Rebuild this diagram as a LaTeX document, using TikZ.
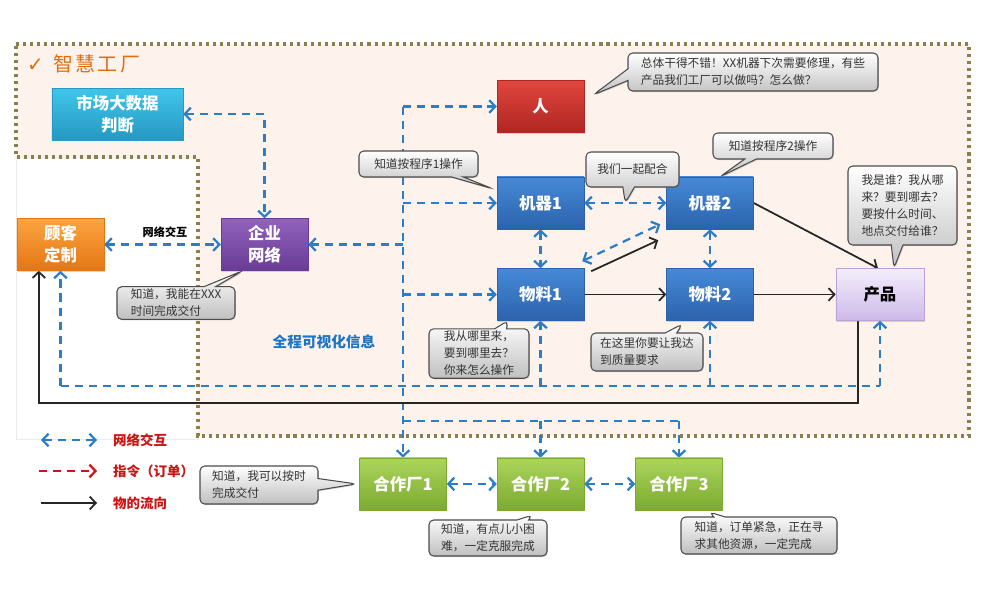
\documentclass[tikz,border=0pt]{standalone}
\usepackage{fontspec}
\setmainfont{Noto Sans CJK SC}
\newfontfamily\symbolfont{DejaVu Sans}
\usetikzlibrary{arrows.meta, positioning, calc, shapes.callouts, shadows, backgrounds}
\definecolor{netblue}{RGB}{44,125,200}
\definecolor{orderred}{RGB}{204,20,20}
\definecolor{zoneline}{RGB}{138,128,78}
\definecolor{zonefill}{RGB}{253,243,236}
\definecolor{titleorange}{RGB}{228,108,10}
\definecolor{infoblue}{RGB}{28,118,200}
\definecolor{bluetop}{RGB}{70,138,215}
\definecolor{bluebot}{RGB}{44,98,172}
\definecolor{redtop}{RGB}{224,70,62}
\definecolor{redbot}{RGB}{176,38,34}
\definecolor{greentop}{RGB}{172,213,92}
\definecolor{greenbot}{RGB}{124,170,48}
\definecolor{orangetop}{RGB}{251,164,64}
\definecolor{orangebot}{RGB}{228,118,20}
\definecolor{purpletop}{RGB}{146,98,188}
\definecolor{purplebot}{RGB}{104,60,148}
\definecolor{cyantop}{RGB}{64,198,235}
\definecolor{cyanbot}{RGB}{38,152,194}
\definecolor{prodtop}{RGB}{243,237,251}
\definecolor{prodbot}{RGB}{206,186,234}
\tikzset{
  unitbox/.style  = {rectangle, minimum width=2.61cm, minimum height=1.56cm,
                     inner sep=1pt, align=center, text=white,
                     font=\fontsize{14}{19}\selectfont\bfseries,
                     drop shadow={shadow xshift=0.8pt, shadow yshift=-1pt, opacity=0.3}},
  machine/.style  = {unitbox, top color=bluetop, bottom color=bluebot, draw=bluebot},
  person/.style   = {unitbox, top color=redtop, bottom color=redbot, draw=redbot},
  partner/.style  = {unitbox, top color=greentop, bottom color=greenbot, draw=greenbot},
  customer/.style = {unitbox, top color=orangetop, bottom color=orangebot, draw=orangebot},
  network/.style  = {unitbox, top color=purpletop, bottom color=purplebot, draw=purplebot},
  market/.style   = {unitbox, minimum width=3.93cm, top color=cyantop, bottom color=cyanbot, draw=cyanbot},
  product/.style  = {unitbox, minimum width=2.64cm, text=black, top color=prodtop,
                     bottom color=prodbot, draw=purpletop!60},
  say/.style      = {rectangle callout, rounded corners=4pt, draw=black!70, line width=0.9pt,
                     top color=white, bottom color=black!25, align=left, text=black!80,
                     font=\fontsize{10}{14.5}\selectfont, inner sep=2pt,
                     callout pointer width=3.5mm,
                     drop shadow={shadow xshift=0.8pt, shadow yshift=-1pt, opacity=0.3}},
  net/.style      = {draw=netblue, line width=1.9pt, dash pattern=on 7pt off 5pt},
  netarrow/.style = {net, -{Straight Barb[length=1.8mm, width=3.8mm]}},
  netboth/.style  = {net, {Straight Barb[length=1.8mm, width=3.8mm]}-{Straight Barb[length=1.8mm, width=3.8mm]}},
  order/.style    = {draw=orderred, line width=1.9pt, dash pattern=on 7pt off 5pt,
                     -{Straight Barb[length=1.8mm, width=3.8mm]}},
  flow/.style     = {draw=black!85, line width=1.5pt, -{Straight Barb[length=1.8mm, width=3.8mm]}},
  legend/.style   = {text=orderred, font=\fontsize{11.5}{14}\selectfont\bfseries, inner sep=0pt},
}

\begin{document}
\begin{tikzpicture}[x=0.03cm, y=-0.03cm]
  \useasboundingbox (0,0) rectangle (990,605);

  \node[market] (mkt) at (117.5,114) {市场大数据\\判断};
  \node[customer] (cust) at (60.5,244.5) {顾客\\定制};
  \node[network] (ent) at (264.5,244.5) {企业\\网络};
  \node[person] (ren) at (540.5,106.5) {人};
  \node[machine, below=1.32cm of ren] (m1) {机器1};
  \node[machine, below=1.17cm of m1] (w1) {物料1};
  \node[machine, right=2.46cm of m1] (m2) {机器2};
  \node[machine, below=1.17cm of m2] (w2) {物料2};
  \node[product, right=2.46cm of w2] (prod) {产品};
  \node[partner, below=4.11cm of w1] (f2) {合作厂2};
  \node[partner, left=1.5cm of f2] (f1) {合作厂1};
  \node[partner, right=1.53cm of f2] (f3) {合作厂3};

  \node[anchor=west, text=titleorange, font=\fontsize{17}{20}\selectfont, inner sep=0pt] (title)
    at (27,64) {{\symbolfont\bfseries ✓}\hspace{8pt}智\hspace{2pt}慧\hspace{2pt}工\hspace{2pt}厂};
  \node[font=\fontsize{9.5}{12}\selectfont\bfseries, inner sep=0pt] (netlbl) at (165,232) {网络交互};
  \node[text=infoblue, font=\fontsize{12.5}{15}\selectfont\bfseries, inner sep=0pt] (info)
    at (324,342) {全程可视化信息};

  \node[say, minimum width=7.5cm, minimum height=1.14cm,
        callout absolute pointer={([xshift=0.27cm, yshift=0.35cm]ren.east)}] (s1) at (753,72)
    {总体干得不错！XX机器下次需要修理，有些\\产品我们工厂可以做吗？怎么做？};
  \node[say, minimum width=3.57cm, minimum height=0.78cm,
        callout absolute pointer={([xshift=-0.12cm, yshift=-0.36cm]m1.north west)}] (s2) at (418.5,164)
    {知道按程序1操作};
  \node[say, minimum width=2.79cm, minimum height=1.05cm,
        callout absolute pointer={($(m1.east)!0.5!(m2.west)$)}] (s3) at (632.5,169.5)
    {我们一起配合};
  \node[say, minimum width=3.6cm, minimum height=0.78cm,
        callout absolute pointer={([xshift=0.3cm]m2.north)}] (s4) at (773,146)
    {知道按程序2操作};
  \node[say, minimum width=3.27cm, minimum height=2.37cm,
        callout absolute pointer={([xshift=0.42cm]prod.north)}] (s5) at (902.5,205.5)
    {我是谁？我从哪\\来？要到哪去？\\要按什么时间、\\地点交付给谁？};
  \node[say, minimum width=3.54cm, minimum height=0.96cm,
        callout absolute pointer={([xshift=0.66cm]ent.south west)}] (s6) at (176,303)
    {知道，我能在XXX\\时间完成交付};
  \node[say, minimum width=3.0cm, minimum height=1.35cm,
        callout absolute pointer={([xshift=0.33cm]w1.south west)}] (s7) at (479,353.5)
    {我从哪里来，\\要到哪里去？\\你来怎么操作};
  \node[say, minimum width=3.36cm, minimum height=1.14cm,
        callout absolute pointer={([xshift=0.48cm, yshift=-0.1cm]w2.south west)}] (s8) at (647,352)
    {在这里你要让我达\\到质量要求};
  \node[say, minimum width=3.54cm, minimum height=1.14cm,
        callout absolute pointer={([xshift=-0.09cm]f1.west)}] (s9) at (259,485)
    {知道，我可以按时\\完成交付};
  \node[say, minimum width=3.54cm, minimum height=1.08cm,
        callout absolute pointer={([xshift=-0.25cm, yshift=-0.15cm]f2.south)}] (s10) at (488,538)
    {知道，有点儿小困\\难，一定克服完成};
  \node[say, minimum width=4.68cm, minimum height=1.11cm,
        callout absolute pointer={([xshift=-0.4cm, yshift=-0.06cm]f3.south east)}] (s11) at (759,535.5)
    {知道，订单紧急，正在寻\\求其他资源，一定完成};

  \node[legend, anchor=west] (lgnet) at (113,440) {网络交互};
  \node[legend, anchor=west] (lgorder) at (113,471) {指令（订单）};
  \node[legend, anchor=west] (lgflow) at (113,503) {物的流向};
  \draw[netboth] ([xshift=-2.16cm]lgnet.west) -- ([xshift=-0.48cm]lgnet.west);
  \draw[order] ([xshift=-2.22cm]lgorder.west) -- ([xshift=-0.48cm]lgorder.west);
  \draw[flow] ([xshift=-2.16cm]lgflow.west) -- ([xshift=-0.48cm]lgflow.west);

  \begin{scope}[on background layer]
    \fill[white] (0,0) rectangle (990,605);
    \draw[black!8, fill=white] (16,157) rectangle (198,439);
    \draw[zoneline, line width=2.6pt, dash pattern=on 2.6pt off 3.4pt, fill=zonefill]
      (16,44) -- (969,44) -- (969,436) -- (198,436) -- (198,157) -- (16,157) -- cycle;

    \draw[netarrow] (f1 |- ren) -- (ren.west);
    \draw[netarrow] (f1 |- ren) -- (f1.north);
    \draw[netarrow] (f1 |- m1) -- (m1.west);
    \draw[netarrow] (f1 |- w1) -- (w1.west);
    \draw[netarrow] (f1 |- ent) -- (ent.east);
    \draw[netboth] (mkt.east) -| (ent.north);
    \draw[netboth] (cust.east) -- (ent.west);
    \coordinate (busa) at (0,386);
    \coordinate (busb) at (0,421);
    \draw[net] (cust |- busa) -- (prod |- busa);
    \draw[netarrow] (cust |- busa) -- (cust.south);
    \draw[netarrow] (w1 |- busa) -- (w1.south);
    \draw[netarrow] (w2 |- busa) -- (w2.south);
    \draw[netarrow] (prod |- busa) -- (prod.south);
    \draw[net] (f1 |- busb) -- (f3 |- busb);
    \draw[netarrow] (f2 |- busb) -- (f2.north);
    \draw[netarrow] (f3 |- busb) -- (f3.north);
    \draw[netboth] (m1.east) -- (m2.west);
    \draw[netboth] (m1.south) -- (w1.north);
    \draw[netboth] (m2.south) -- (w2.north);
    \draw[netboth] ($(w1.north east)+(-2,-7)$) -- ($(m2.south west)+(-6,-5)$);
    \draw[netboth] (f1.east) -- (f2.west);
    \draw[netboth] (f2.east) -- (f3.west);
    \draw[flow] ($(w1.north east)+(7,3)$) -- ($(m2.south west)+(-8,11)$);
    \draw[flow] (w1.east) -- (w2.west);
    \draw[flow] (w2.east) -- (prod.west);
    \draw[flow] (m2.east) -- ([xshift=-0.06cm]prod.north);
    \draw[flow] ([xshift=-0.66cm]prod.south) -- ++(0,82) -| ([xshift=-0.65cm]cust.south);
  \end{scope}
\end{tikzpicture}
\end{document}
